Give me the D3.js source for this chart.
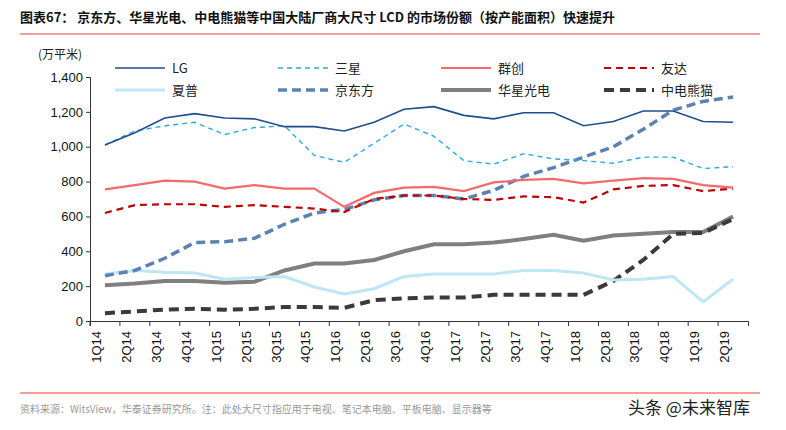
<!DOCTYPE html>
<html><head><meta charset="utf-8">
<script src="https://cdn.jsdelivr.net/npm/d3@7"></script>
<style>body{margin:0;background:#fff;font-family:"Noto Sans CJK SC",sans-serif}</style>
</head><body><svg id="c" width="786" height="430"></svg>
<script>
const quarters = ["1Q14","2Q14","3Q14","4Q14","1Q15","2Q15","3Q15","4Q15","1Q16","2Q16","3Q16","4Q16","1Q17","2Q17","3Q17","4Q17","1Q18","2Q18","3Q18","4Q18","1Q19","2Q19"];
const lg      = [1010,1080,1165,1190,1165,1160,1115,1115,1090,1140,1215,1230,1180,1160,1195,1195,1120,1145,1205,1205,1145,1140];
const samsung = [1010,1090,1120,1140,1070,1110,1120,950,910,1020,1130,1060,920,900,960,930,920,905,940,940,875,885];
const innolux = [755,780,805,800,760,780,760,760,655,735,765,770,745,795,810,815,790,805,820,815,780,765];
const auo     = [620,665,670,670,655,665,655,645,625,700,720,720,700,695,715,710,680,755,775,780,745,760];
const sharp   = [270,290,280,275,240,250,255,195,155,185,255,270,270,270,290,290,275,235,240,255,110,240];
const boe     = [260,290,360,450,455,475,555,620,640,695,720,720,700,750,830,880,940,1000,1100,1210,1260,1285];
const csot    = [205,215,230,230,220,225,290,330,330,350,400,440,440,450,470,495,460,490,500,510,510,600];
const panda   = [45,55,65,70,65,70,80,80,75,120,130,135,135,150,150,150,150,230,350,500,505,585];
const yTicks = [0,200,400,600,800,1000,1200,1400];

const series = [
  {name:"LG", v:lg, c:"#1f4e8c", w:1.6, d:null},
  {name:"三星", v:samsung, c:"#29aae1", w:1.4, d:"5,4"},
  {name:"群创", v:innolux, c:"#f4696b", w:2.2, d:null},
  {name:"友达", v:auo, c:"#c00000", w:2.2, d:"7,5"},
  {name:"夏普", v:sharp, c:"#bde6f7", w:3, d:null},
  {name:"京东方", v:boe, c:"#5b82b0", w:3.5, d:"9,5"},
  {name:"华星光电", v:csot, c:"#7f7f7f", w:4, d:null},
  {name:"中电熊猫", v:panda, c:"#3a3a3a", w:4, d:"10,6"}
];
const drawOrder = [6,7,4,5,3,2,1,0];

const svg = d3.select("#c");
const x = d3.scaleBand().domain(quarters).range([90,748]);
const y = d3.scaleLinear().domain([0,1400]).range([321,77]);

svg.append("text").attr("x",20).attr("y",22).attr("font-size",13).attr("font-weight","bold").attr("fill","#111")
  .text("图表67：  京东方、华星光电、中电熊猫等中国大陆厂商大尺寸 LCD 的市场份额（按产能面积）快速提升");
svg.append("line").attr("x1",20).attr("x2",760).attr("y1",34).attr("y2",34).attr("stroke","#e8413a").attr("stroke-width",1);
svg.append("text").attr("x",38).attr("y",59).attr("font-size",12).attr("fill","#222").text("(万平米)");

const yAxis = svg.append("g").attr("transform","translate(90,0)")
  .call(d3.axisLeft(y).tickValues(yTicks).tickSize(4).tickFormat(d3.format(",")));
yAxis.selectAll("text").attr("font-family","Arial,Liberation Sans").attr("font-size",13).attr("fill","#111");
const xAxis = svg.append("g").attr("transform","translate(0,321)")
  .call(d3.axisBottom(x).tickSize(5).tickSizeOuter(5));
xAxis.selectAll(".tick line").attr("transform",`translate(${-x.bandwidth()/2},0)`);
xAxis.selectAll("text").attr("font-family","Arial,Liberation Sans").attr("font-size",13).attr("fill","#111")
  .attr("transform","rotate(-90)").attr("text-anchor","end").attr("dx","-10").attr("dy","-0.3em").attr("y",0).attr("x",0);
svg.selectAll(".domain,.tick line").attr("stroke","#333");

const line = d3.line().x((d,i)=>x(quarters[i])+x.bandwidth()/2).y(d=>y(d));
drawOrder.forEach(i=>{
  const s = series[i];
  svg.append("path").attr("d",line(s.v)).attr("fill","none").attr("stroke",s.c)
    .attr("stroke-width",s.w).attr("stroke-dasharray",s.d);
});

// legend
series.forEach((s,i)=>{
  const lx = 115 + (i%4)*163, ly = i<4 ? 68 : 90;
  svg.append("line").attr("x1",lx).attr("x2",lx+50).attr("y1",ly).attr("y2",ly)
    .attr("stroke",s.c).attr("stroke-width",s.w).attr("stroke-dasharray",s.d);
  svg.append("text").attr("x",lx+57).attr("y",ly+5).attr("font-size",13).attr("fill","#222").text(s.name);
});

svg.append("line").attr("x1",20).attr("x2",760).attr("y1",393).attr("y2",393).attr("stroke","#f08070").attr("stroke-width",1.5);
svg.append("text").attr("x",20).attr("y",413).attr("font-size",10).attr("fill","#999")
  .text("资料来源：WitsView，华泰证券研究所。注：此处大尺寸指应用于电视、笔记本电脑、平板电脑、显示器等");
svg.append("text").attr("x",628).attr("y",414).attr("font-size",17).attr("fill","#222")
  .attr("stroke","#fff").attr("stroke-width",3).attr("paint-order","stroke").text("头条 @未来智库");
</script></body></html>
